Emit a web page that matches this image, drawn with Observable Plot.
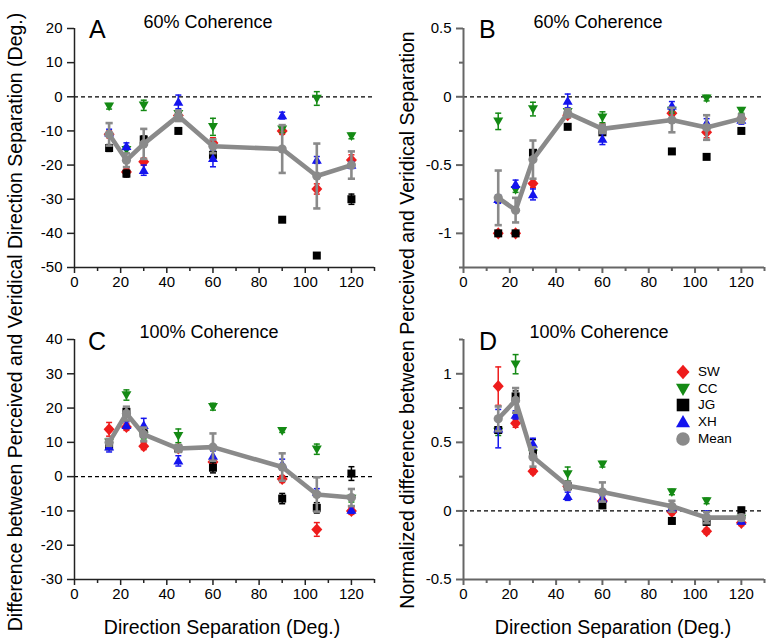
<!DOCTYPE html>
<html><head><meta charset="utf-8">
<script src="https://cdn.jsdelivr.net/npm/d3@7"></script>
<script src="https://cdn.jsdelivr.net/npm/@observablehq/plot@0.6"></script>
<style>
body{margin:0;background:#fff;font-family:"Liberation Sans",Arial,sans-serif;}
#wrap{position:relative;width:768px;height:641px;overflow:hidden;background:#fff;}
.panel{position:absolute;}
.lbl{position:absolute;white-space:nowrap;color:#000;line-height:1;}
.rot{position:absolute;white-space:nowrap;color:#000;line-height:1;transform:translate(-50%,-50%) rotate(-90deg);}
.leg{position:absolute;display:flex;align-items:center;font-size:13.5px;line-height:1;}
.leg svg{margin-right:6px;}
</style></head><body><div id="wrap"></div>
<script>
// ---- data ----
const separations = [15, 22.5, 30, 45, 60, 90, 105, 120];
const subjects = ["SW", "CC", "JG", "XH", "Mean"];
const subjectColors = ["#ee1c1c", "#148a14", "#000000", "#1414ee", "#8a8a8a"];

// Panel A: 60% coherence, difference (deg)
const A_SW = [-11, -22, -19, -5.5, -13.5, -10, -27, -18.5];
const A_SW_ERR = [1, 1, 1, 1, 1.5, 1, 1.5, 1.5];
const A_CC = [-2.8, -15.5, -2.5, -5, -8.8, -9.5, -0.5, -11.5];
const A_CC_ERR = [0.8, 1, 1.5, 1, 2.5, 1, 2, 0.8];
const A_JG = [-15, -22.5, -12.5, -10, -17, -36, -46.5, -30];
const A_JG_ERR = [1, 1, 1, 0.5, 1, 0.5, 0.5, 1.5];
const A_XH = [-10.5, -14.5, -21.5, -1.5, -18, -5.5, -18.5, -20];
const A_XH_ERR = [1, 1, 1.5, 2, 2.5, 1, 1, 1];
const A_MEAN = [-11, -18.6, -13.8, -5.6, -14.5, -15.3, -23.2, -20];
const A_MEAN_ERR = [3.3, 2, 4.4, 1.5, 2, 7, 9.5, 4];

// Panel B: 60% coherence, normalized
const B_SW = [-1, -1, -0.635, -0.135, -0.23, -0.12, -0.26, -0.16];
const B_SW_ERR = [0.02, 0.02, 0.03, 0.02, 0.03, 0.02, 0.04, 0.03];
const B_CC = [-0.18, -0.68, -0.09, -0.11, -0.15, -0.1, -0.01, -0.1];
const B_CC_ERR = [0.06, 0.02, 0.05, 0.02, 0.04, 0.02, 0.02, 0.02];
const B_JG = [-1, -1, -0.41, -0.22, -0.26, -0.4, -0.44, -0.25];
const B_JG_ERR = [0.01, 0.01, 0.02, 0.01, 0.02, 0.01, 0.01, 0.01];
const B_XH = [-0.75, -0.64, -0.715, -0.03, -0.31, -0.065, -0.19, -0.17];
const B_XH_ERR = [0.03, 0.03, 0.04, 0.05, 0.04, 0.03, 0.03, 0.03];
const B_MEAN = [-0.74, -0.83, -0.46, -0.12, -0.235, -0.17, -0.225, -0.16];
const B_MEAN_ERR = [0.2, 0.09, 0.14, 0.03, 0.03, 0.09, 0.09, 0.03];

// Panel C: 100% coherence, difference (deg)
const C_SW = [13.8, 14.5, 8.9, 8.2, 4.3, -0.7, -15.4, -10];
const C_SW_ERR = [2, 1, 1, 1, 1, 1, 2, 1];
const C_CC = [10, 23.8, 12, 11.9, 20.4, 13.4, 8, -6.4];
const C_CC_ERR = [1, 1.5, 1, 2, 1, 0.5, 1.5, 1];
const C_JG = [8.9, 18.9, 12.6, 8.2, 2.6, -6.4, -9.1, 0.9];
const C_JG_ERR = [1, 1, 1, 1, 1.5, 1.5, 1.5, 2];
const C_XH = [8.7, 15, 15, 4.6, 6, 3.6, -4.5, -9.7];
const C_XH_ERR = [1.5, 1, 2, 1.5, 1.5, 1.5, 1, 1];
const C_MEAN = [10, 18.4, 12.3, 8.2, 8.6, 2.8, -5.2, -6.1];
const C_MEAN_ERR = [1, 2, 2, 1, 4, 4, 5, 2.5];

// Panel D: 100% coherence, normalized
const D_SW = [0.91, 0.64, 0.29, 0.18, 0.073, -0.007, -0.148, -0.087];
const D_SW_ERR = [0.14, 0.03, 0.02, 0.02, 0.02, 0.02, 0.02, 0.02];
const D_CC = [0.58, 1.07, 0.42, 0.27, 0.34, 0.138, 0.073, -0.056];
const D_CC_ERR = [0.03, 0.07, 0.03, 0.05, 0.02, 0.02, 0.02, 0.02];
const D_JG = [0.59, 0.835, 0.42, 0.18, 0.04, -0.073, -0.08, 0.005];
const D_JG_ERR = [0.02, 0.04, 0.1, 0.02, 0.02, 0.02, 0.02, 0.02];
const D_XH = [0.6, 0.7, 0.49, 0.107, 0.09, 0.024, -0.03, -0.073];
const D_XH_ERR = [0.14, 0.03, 0.04, 0.03, 0.02, 0.02, 0.03, 0.02];
const D_MEAN = [0.672, 0.806, 0.393, 0.184, 0.138, 0.034, -0.049, -0.049];
const D_MEAN_ERR = [0.09, 0.09, 0.07, 0.03, 0.07, 0.04, 0.04, 0.02];

// axis ticks
const xMajorTicks = [0, 20, 40, 60, 80, 100, 120];
const xMinorTicks = [10, 30, 50, 70, 90, 110, 130];
const degTicks = [-50, -40, -30, -20, -10, 0, 10, 20];
const degTicksC = [-30, -20, -10, 0, 10, 20, 30, 40];
const normTicks = [-1, -0.5, 0, 0.5];
const normMinorB = [-1.25, -0.75, -0.25, 0.25];
const normTicksD = [-0.5, 0, 0.5, 1];
const normMinorD = [-0.25, 0.25, 0.75, 1.25];

const titles = ["60% Coherence", "60% Coherence", "100% Coherence", "100% Coherence"];
const letters = ["A", "B", "C", "D"];
const yTitleLeft = "Difference between Perceived and Veridical Direction Separation (Deg.)";
const yTitleRight = "Normalized difference between Perceived and Veridical Separation";
const xTitle = "Direction Separation (Deg.)";

// ---- symbols ----
const R = s => Math.sqrt(s / Math.PI);
const symDiamond = {draw(c, s){const r = R(s); c.moveTo(0, -r*1.1); c.lineTo(r, 0); c.lineTo(0, r*1.1); c.lineTo(-r, 0); c.closePath();}};
const symTriDown = {draw(c, s){const r = R(s); c.moveTo(0, r); c.lineTo(r, -r*0.75); c.lineTo(-r, -r*0.75); c.closePath();}};
const symSquare = {draw(c, s){const r = R(s); c.rect(-r, -r, 2*r, 2*r);}};
const symTriUp = {draw(c, s){const r = R(s); c.moveTo(0, -r); c.lineTo(r, r*0.75); c.lineTo(-r, r*0.75); c.closePath();}};
const symCircle = {draw(c, s){const r = R(s); c.moveTo(r, 0); c.arc(0, 0, r, 0, 2*Math.PI);}};
const symHLine = {draw(c, s){const r = R(s); c.moveTo(-r, 0); c.lineTo(r, 0);}};
const subjectSymbols = [symDiamond, symTriDown, symSquare, symTriUp, symCircle];
const markerR = [5.5, 5, 4, 5, 4.6];
const legendR = [6.5, 7, 6.3, 7, 6.8];

const wrap = document.getElementById("wrap");

function rows(vals, errs){ return separations.map((x, i) => ({x, y: vals[i], err: errs[i]})); }

function makePanel(cfg){
  const series = cfg.series; // array of [vals, errs] for SW, CC, JG, XH, Mean
  const marks = [];
  const ac = cfg.axisColor, aw = cfg.axisWidth;
  marks.push(Plot.ruleY([0], {stroke: "#000", strokeWidth: 1.2, strokeDasharray: "4,3"}));
  // subjects
  for (let k = 0; k < 4; k++){
    const d = rows(series[k][0], series[k][1]);
    const col = subjectColors[k];
    marks.push(Plot.ruleX(d, {x: "x", y1: v => v.y - v.err, y2: v => v.y + v.err, stroke: col, strokeWidth: 1.5}));
    marks.push(Plot.dot(d, {x: "x", y: v => v.y + v.err, symbol: symHLine, r: 3, fill: "none", stroke: col, strokeWidth: 1.5}));
    marks.push(Plot.dot(d, {x: "x", y: v => v.y - v.err, symbol: symHLine, r: 3, fill: "none", stroke: col, strokeWidth: 1.5}));
    marks.push(Plot.dot(d, {x: "x", y: "y", symbol: subjectSymbols[k], r: markerR[k], fill: col, stroke: "none"}));
  }
  // mean
  const m = rows(series[4][0], series[4][1]);
  const mc = subjectColors[4];
  marks.push(Plot.ruleX(m, {x: "x", y1: v => v.y - v.err, y2: v => v.y + v.err, stroke: mc, strokeWidth: 2.6}));
  marks.push(Plot.dot(m, {x: "x", y: v => v.y + v.err, symbol: symHLine, r: 3.6, fill: "none", stroke: mc, strokeWidth: 2.6}));
  marks.push(Plot.dot(m, {x: "x", y: v => v.y - v.err, symbol: symHLine, r: 3.6, fill: "none", stroke: mc, strokeWidth: 2.6}));
  marks.push(Plot.line(m, {x: "x", y: "y", stroke: mc, strokeWidth: 4.6, strokeLinejoin: "round"}));
  marks.push(Plot.dot(m, {x: "x", y: "y", symbol: symCircle, r: markerR[4], fill: mc, stroke: "none"}));
  // axes
  marks.push(Plot.axisX({ticks: xMajorTicks, tickSize: 6, tickPadding: 3, tickFormat: d => String(d), label: null, stroke: ac, strokeWidth: aw, fill: "#000"}));
  marks.push(Plot.axisX({ticks: xMinorTicks, tickSize: 4, tickFormat: () => "", label: null, stroke: ac, strokeWidth: aw}));
  marks.push(Plot.axisY({ticks: cfg.yTicks, tickSize: 7, tickPadding: 5, tickFormat: d => String(d), label: null, stroke: ac, strokeWidth: aw, fill: "#000"}));
  if (cfg.yMinor) marks.push(Plot.axisY({ticks: cfg.yMinor, tickSize: 4, tickFormat: () => "", label: null, stroke: ac, strokeWidth: aw}));
  marks.push(Plot.ruleX([0], {stroke: ac, strokeWidth: aw}));
  marks.push(Plot.ruleY([cfg.yDomain[0]], {stroke: ac, strokeWidth: aw}));

  const svg = Plot.plot({
    width: 384, height: 300,
    marginLeft: cfg.ml, marginRight: cfg.mr, marginTop: 28, marginBottom: cfg.mb,
    x: {domain: [0, 130]},
    y: {domain: cfg.yDomain},
    style: {fontSize: "15px", fontFamily: "'Liberation Sans', Arial, sans-serif", color: "#000", background: "transparent", overflow: "visible"},
    marks
  });
  svg.classList.add("panel");
  svg.style.left = cfg.left + "px";
  svg.style.top = cfg.top + "px";
  wrap.appendChild(svg);
}

makePanel({series: [[A_SW, A_SW_ERR], [A_CC, A_CC_ERR], [A_JG, A_JG_ERR], [A_XH, A_XH_ERR], [A_MEAN, A_MEAN_ERR]],
  yDomain: [-50, 20], yTicks: degTicks, yMinor: null, ml: 74, mr: 10, mb: 33, left: 0, top: 0, axisColor: "#222", axisWidth: 1.5});
makePanel({series: [[B_SW, B_SW_ERR], [B_CC, B_CC_ERR], [B_JG, B_JG_ERR], [B_XH, B_XH_ERR], [B_MEAN, B_MEAN_ERR]],
  yDomain: [-1.25, 0.5], yTicks: normTicks, yMinor: normMinorB, ml: 79, mr: 4, mb: 33, left: 384, top: 0, axisColor: "#666", axisWidth: 2});
makePanel({series: [[C_SW, C_SW_ERR], [C_CC, C_CC_ERR], [C_JG, C_JG_ERR], [C_XH, C_XH_ERR], [C_MEAN, C_MEAN_ERR]],
  yDomain: [-30, 40], yTicks: degTicksC, yMinor: null, ml: 74, mr: 10, mb: 32, left: 0, top: 311, axisColor: "#222", axisWidth: 1.5});
makePanel({series: [[D_SW, D_SW_ERR], [D_CC, D_CC_ERR], [D_JG, D_JG_ERR], [D_XH, D_XH_ERR], [D_MEAN, D_MEAN_ERR]],
  yDomain: [-0.5, 1.25], yTicks: normTicksD, yMinor: normMinorD, ml: 79, mr: 4, mb: 32, left: 384, top: 311, axisColor: "#666", axisWidth: 2});

// ---- text labels ----
function addLabel(text, left, top, size, center){
  const d = document.createElement("div");
  d.className = "lbl";
  d.textContent = text;
  d.style.fontSize = size + "px";
  d.style.top = top + "px";
  if (center){ d.style.left = left + "px"; d.style.transform = "translateX(-50%)"; }
  else d.style.left = left + "px";
  wrap.appendChild(d);
}
const titlePos = [[208, 12.8], [598, 12.8], [209, 322.8], [599, 322.8]];
const letterPos = [[89, 16.8], [479, 16.8], [88, 328.8], [479, 328.8]];
titles.forEach((t, i) => addLabel(t, titlePos[i][0], titlePos[i][1], 18, true));
letters.forEach((t, i) => addLabel(t, letterPos[i][0], letterPos[i][1], 25, false));
addLabel(xTitle, 222, 618, 19.5, true);
addLabel(xTitle, 613, 618, 19.5, true);

function addRot(text, cx, cy, size){
  const d = document.createElement("div");
  d.className = "rot";
  d.textContent = text;
  d.style.fontSize = size + "px";
  d.style.left = cx + "px";
  d.style.top = cy + "px";
  wrap.appendChild(d);
}
addRot(yTitleLeft, 16, 322, 19.5);
addRot(yTitleRight, 408, 320, 19.5);

// ---- legend (panel D) ----
const legendRows = [372, 389, 405, 422, 439];
subjects.forEach((name, k) => {
  const row = document.createElement("div");
  row.className = "leg";
  row.style.left = (683 - 9) + "px";
  row.style.top = (legendRows[k] - 9) + "px";
  row.style.height = "18px";
  const ns = "http://www.w3.org/2000/svg";
  const s = document.createElementNS(ns, "svg");
  s.setAttribute("width", 18); s.setAttribute("height", 18);
  const p = document.createElementNS(ns, "path");
  const path = d3.path();
  subjectSymbols[k].draw(path, Math.PI * legendR[k] * legendR[k]);
  p.setAttribute("d", path.toString());
  p.setAttribute("transform", "translate(9,9)");
  p.setAttribute("fill", subjectColors[k]);
  s.appendChild(p);
  row.appendChild(s);
  const t = document.createElement("span");
  t.textContent = name;
  row.appendChild(t);
  wrap.appendChild(row);
});
</script></body></html>
